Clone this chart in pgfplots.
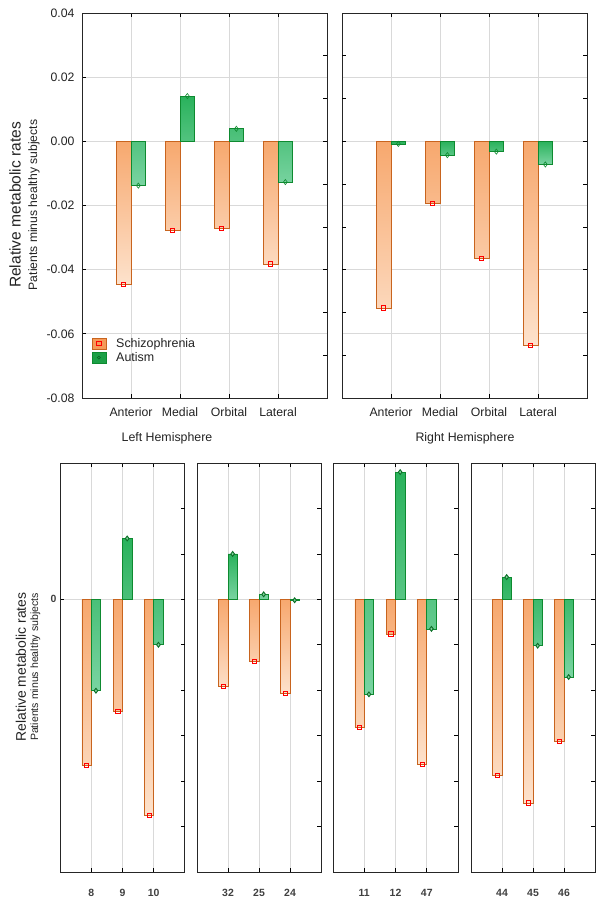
\documentclass[border=0pt]{standalone}
\usepackage{pgfplots}
\pgfplotsset{compat=1.18}
\usepackage{pgfplotstable}
\usepackage{fontspec}
\setmainfont{Liberation Sans}
\definecolor{orEdge}{HTML}{C8641E}
\definecolor{orTop}{HTML}{F7A86E}
\definecolor{orBot}{HTML}{FDE2CC}
\definecolor{grEdge}{HTML}{0E8A30}
\definecolor{grTop}{HTML}{2AB25C}
\definecolor{grBot}{HTML}{7AD4A2}
\definecolor{grLeg}{HTML}{1CA046}
\definecolor{orLeg}{HTML}{F59A58}
\definecolor{gridc}{HTML}{D9D9D9}
\definecolor{txt}{HTML}{222222}

\pgfplotstableread{
x sch aut
1 -0.0445 -0.0138
2 -0.0277 0.0141
3 -0.0272 0.0039
4 -0.0382 -0.0127
}\TL
\pgfplotstableread{
x sch aut
1 -0.0519 -0.0008
2 -0.0193 -0.0043
3 -0.0365 -0.0032
4 -0.0635 -0.0072
}\TR
\pgfplotstableread{
x sch aut
1 -3.66 -2.01
2 -2.47 1.34
3 -4.76 -1.00
}\BA
\pgfplotstableread{
x sch aut
1 -1.92 1.00
2 -1.36 0.11
3 -2.07 -0.02
}\BB
\pgfplotstableread{
x sch aut
1 -2.81 -2.09
2 -0.76 2.80
3 -3.63 -0.65
}\BC
\pgfplotstableread{
x sch aut
1 -3.88 0.49
2 -4.48 -1.02
3 -3.13 -1.71
}\BD

\pgfplotsset{
  panel/.style={scale only axis, anchor=north west,
    scaled y ticks=false, scaled x ticks=false,
    axis line style={draw=black!85, line width=1bp},
    tick style={black, line width=0.7bp}, major tick length=4bp, tick align=inside,
    grid style={gridc, line width=0.7bp}, xmajorgrids, ymajorgrids,
    xtick pos=both, ytick pos=left,
    tick label style={text=txt}},
  toppanel/.style={panel, width=245bp, height=385bp, xmin=0, xmax=5, ymin=-0.08, ymax=0.04,
    xtick={1,2,3,4}, xticklabels={Anterior,Medial,Orbital,Lateral},
    ytick={-0.08,-0.06,-0.04,-0.02,0,0.02,0.04},
    tick label style={font=\fontsize{12.3}{14}\selectfont},
    xticklabel style={yshift=-6bp}, yticklabel style={xshift=-4bp}},
  botpanel/.style={panel, height=409bp, xmin=0, xmax=4, ymin=-6, ymax=3,
    xtick={1,2,3}, ytick={0},
    xticklabel style={font=\fontsize{10.5}{12}\selectfont\bfseries, text=black!75, yshift=-14bp},
    yticklabel style={font=\fontsize{10.5}{12}\selectfont\bfseries, text=black!75}},
  tickover/.style={scale only axis, anchor=north west, axis line style={draw=none},
    scaled y ticks=false, scaled x ticks=false,
    tick style={black, line width=0.7bp}, major tick length=4bp, tick align=inside,
    xtick=\empty, yticklabels={}},
  schbar/.style={ybar, bar width=0.3, bar shift=-0.15, draw=orEdge, line width=0.7bp,
    top color=orTop, bottom color=orBot, forget plot},
  autbar/.style={ybar, bar width=0.3, bar shift=0.15, draw=grEdge, line width=0.7bp,
    top color=grTop, bottom color=grBot, forget plot},
  schmark/.style={only marks, mark=square, mark size=2.1bp, forget plot,
    mark options={draw=red, line width=0.7bp, solid}},
  autmark/.style={only marks, mark=diamond, mark size=2.6bp, forget plot,
    mark options={draw=grEdge, fill=grBot!50, line width=0.6bp, solid}},
  autmarkb/.style={only marks, mark=diamond*, mark size=2.4bp, forget plot,
    mark options={draw=grEdge!80!black, fill=grTop!60, line width=0.9bp, solid}},
}

\newcommand{\bars}[2]{%
  \addplot[schbar] table[x=x, y=sch] {#1};
  \addplot[autbar] table[x=x, y=aut] {#1};
  \addplot[schmark] table[x expr=\thisrow{x}-0.15, y=sch] {#1};
  \addplot[#2] table[x expr=\thisrow{x}+0.15, y=aut] {#1};
}

\begin{document}
\begin{tikzpicture}
\useasboundingbox (0,0) rectangle (604bp,-903bp);

% ---------- top left ----------
\begin{axis}[toppanel, at={(82bp,-13bp)},
  yticklabels={{-0.08},{-0.06},{-0.04},{-0.02},{0.00},{0.02},{0.04}},
  legend cell align=left,
  legend style={at={(0.038,0.158)}, anchor=north west, draw=none, fill=none,
    inner sep=0pt, font=\fontsize{12.5}{14}\selectfont, text=txt, row sep=1.5bp,
    nodes={inner sep=1bp},
    /tikz/every odd column/.append style={column sep=9bp}}]
\bars{\TL}{autmark}
\addlegendimage{legend image code/.code={
  \draw[draw=orEdge, fill=orLeg, line width=0.7bp] (0bp,-5.5bp) rectangle (14bp,5.5bp);
  \draw[draw=red, line width=0.7bp] (4.8bp,-2.2bp) rectangle (9.2bp,2.2bp);}}
\addlegendentry{Schizophrenia}
\addlegendimage{legend image code/.code={
  \draw[draw=grEdge, fill=grLeg, line width=0.7bp] (0bp,-5.5bp) rectangle (14bp,5.5bp);
  \draw[draw=grEdge!70!black, line width=0.6bp] (7bp,0bp) circle (1.5bp);}}
\addlegendentry{Autism}
\end{axis}
\begin{axis}[tickover, at={(82bp,-13bp)}, width=245bp, height=385bp,
  xmin=0, xmax=5, ymin=-0.08, ymax=0.04, ytick pos=right,
  ytick={-0.066667,-0.053333,-0.04,-0.026667,-0.013333,0,0.013333,0.026667}]
\end{axis}

% ---------- top right ----------
\begin{axis}[toppanel, at={(342bp,-13bp)}, yticklabels={}, ytick style={draw=none}]
\bars{\TR}{autmark}
\end{axis}
\begin{axis}[tickover, at={(342bp,-13bp)}, width=245bp, height=385bp,
  xmin=0, xmax=5, ymin=-0.08, ymax=0.04, ytick pos=both,
  ytick={-0.066667,-0.053333,-0.04,-0.026667,-0.013333,0,0.013333,0.026667}]
\end{axis}

\node[text=txt, font=\fontsize{12.4}{14}\selectfont] at (167bp,-438bp) {Left Hemisphere};
\node[text=txt, font=\fontsize{12.4}{14}\selectfont] at (465bp,-438bp) {Right Hemisphere};
\node[rotate=90, text=txt, font=\fontsize{15.6}{18}\selectfont] at (15bp,-205bp) {Relative metabolic rates};
\node[rotate=90, text=txt, font=\fontsize{12.2}{14}\selectfont] at (34bp,-205bp) {Patients minus healthy subjects};

% ---------- bottom panels ----------
\begin{axis}[botpanel, at={(60bp,-463bp)}, width=125bp, xticklabels={8,9,10}, yticklabels={0}]
\bars{\BA}{autmarkb}
\end{axis}
\begin{axis}[tickover, at={(60bp,-463bp)}, width=125bp, height=409bp,
  xmin=0, xmax=4, ymin=-6, ymax=3, ytick pos=right, ytick={-5,...,2}]
\end{axis}

\begin{axis}[botpanel, at={(197bp,-463bp)}, width=124bp, xticklabels={32,25,24}, yticklabels={}, ytick style={draw=none}]
\bars{\BB}{autmarkb}
\end{axis}
\begin{axis}[tickover, at={(197bp,-463bp)}, width=124bp, height=409bp,
  xmin=0, xmax=4, ymin=-6, ymax=3, ytick pos=right, ytick={-5,...,2}]
\end{axis}

\begin{axis}[botpanel, at={(333bp,-463bp)}, width=125bp, xticklabels={11,12,47}, yticklabels={}, ytick style={draw=none}]
\bars{\BC}{autmarkb}
\end{axis}
\begin{axis}[tickover, at={(333bp,-463bp)}, width=125bp, height=409bp,
  xmin=0, xmax=4, ymin=-6, ymax=3, ytick pos=right, ytick={-5,...,2}]
\end{axis}

\begin{axis}[botpanel, at={(471bp,-463bp)}, width=124bp, xticklabels={44,45,46}, yticklabels={}, ytick style={draw=none}]
\bars{\BD}{autmarkb}
\end{axis}
\begin{axis}[tickover, at={(471bp,-463bp)}, width=124bp, height=409bp,
  xmin=0, xmax=4, ymin=-6, ymax=3, ytick pos=right, ytick={-5,...,2}]
\end{axis}

\node[rotate=90, text=txt, font=\fontsize{14}{16}\selectfont] at (21bp,-667bp) {Relative metabolic rates};
\node[rotate=90, text=txt, font=\fontsize{10.6}{12}\selectfont] at (35.5bp,-667bp) {Patients minus healthy subjects};
\end{tikzpicture}
\end{document}
